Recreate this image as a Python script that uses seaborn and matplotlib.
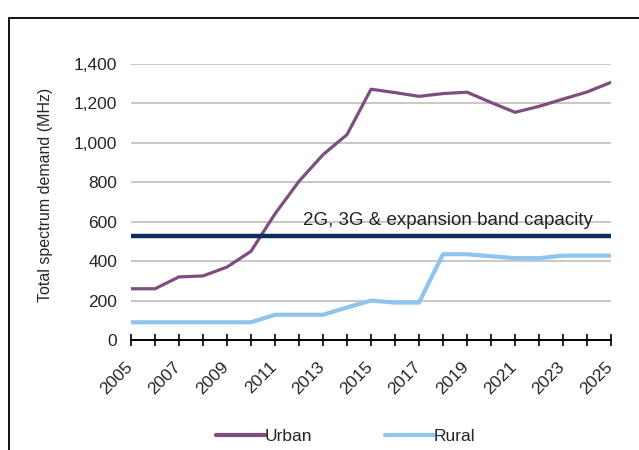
import pandas as pd
import matplotlib
matplotlib.use("Agg")
import matplotlib.pyplot as plt
import matplotlib.transforms as mtransforms
import seaborn as sns
from matplotlib.patches import Rectangle
from matplotlib.ticker import FuncFormatter

sns.set_style("whitegrid")
plt.rcParams["font.family"] = ["Liberation Sans", "DejaVu Sans"]

# Data
years = list(range(2005, 2026))
urban = [260, 260, 320, 325, 370, 450, 640, 805, 940, 1042, 1272,
         1255, 1236, 1250, 1257, 1205, 1155, 1185, 1222, 1258, 1307]
rural = [90, 90, 90, 90, 90, 90, 128, 128, 128, 165, 200,
         190, 190, 435, 435, 425, 415, 415, 428, 428, 428]
capacity = 530
capacity_label = "2G, 3G & expansion band capacity"
series_names = ["Urban", "Rural"]
colors = ["#7d4e7f", "#8fc4ee"]

df = pd.DataFrame({
    "Year": years * 2,
    "Demand": urban + rural,
    "Area": ["Urban"] * len(years) + ["Rural"] * len(years),
})

fig = plt.figure(figsize=(6.39, 4.5), dpi=100)
ax = fig.add_axes([131 / 639, 1 - 340 / 450, 480 / 639, 276 / 450])

sns.lineplot(data=df, x="Year", y="Demand", hue="Area", hue_order=series_names,
             palette=colors, ax=ax, legend=False)
for line, lw in zip(ax.lines, [2.3, 3.0]):
    line.set_linewidth(lw)

ax.axhline(capacity, color="#0c2f5e", lw=3.2, zorder=3)
fig.text(593 / 639, 1 - 220 / 450, capacity_label, ha="right", va="center",
         fontsize=13.5, color="#222222")

ax.set_xlim(2005, 2025)
ax.set_ylim(0, 1400)
ax.set_yticks(range(0, 1401, 200))
ax.yaxis.set_major_formatter(FuncFormatter(lambda v, p: f"{int(v):,}"))
ax.set_xticks(years)
ax.set_xticklabels([str(y) if (y - 2005) % 2 == 0 else "" for y in years],
                   rotation=45, ha="right", rotation_mode="anchor")
ax.tick_params(axis="x", which="major", direction="inout", length=8, width=1.2,
               color="black", labelsize=12.5, pad=10, bottom=True)
ax.tick_params(axis="y", length=0, labelsize=12.5, pad=10)
shift = mtransforms.ScaledTranslation(-6 / 100, 0, fig.dpi_scale_trans)
for lab in ax.get_xticklabels():
    lab.set_transform(lab.get_transform() + shift)
ax.grid(axis="y", color="#c4c4c4", lw=1.3)
ax.grid(axis="x", visible=False)
for side in ["left", "right", "top"]:
    ax.spines[side].set_visible(False)
ax.spines["bottom"].set_color("black")
ax.spines["bottom"].set_linewidth(1.4)
ax.spines["bottom"].set_zorder(4)

ax.set_xlabel("")
ax.set_ylabel("")
fig.text(46 / 639, 1 - 195 / 450, "Total spectrum demand (MHz)", rotation=90,
         ha="center", va="center", fontsize=11.5)

handles = [plt.Line2D([], [], color=c, lw=3) for c in colors]
fig.legend(handles, series_names, loc="center", bbox_to_anchor=(346 / 639, 1 - 436 / 450),
           ncol=2, frameon=False, fontsize=12.5, handlelength=2.8, handletextpad=0.0,
           columnspacing=4.2)

# outer frame (extends past right and bottom edges)
fig.patches.append(Rectangle((9 / 639, -0.1), 1.2, 1 - 18 / 450 + 0.1,
                             transform=fig.transFigure, fill=False,
                             edgecolor="black", lw=1.3))

fig.savefig("out.png", dpi=100)
